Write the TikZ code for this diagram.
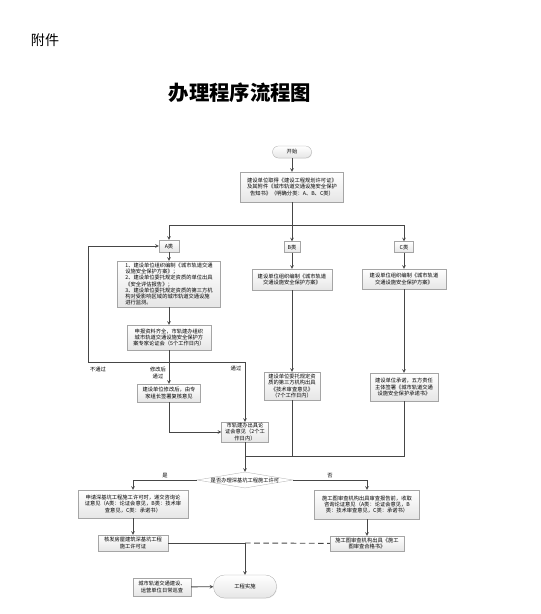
\documentclass[tikz,border=0pt]{standalone}
\usepackage{fontspec}
\setmainfont{Noto Sans CJK SC}
\usetikzlibrary{shapes.geometric, arrows.meta, positioning, calc, shadows}
\definecolor{linegray}{RGB}{70, 70, 70}
\definecolor{boxline}{RGB}{165, 165, 165}
\definecolor{boxfill}{RGB}{230, 230, 230}
\tikzset{
    box/.style = {rectangle, draw=boxline, top color=white, bottom color=boxfill, align=center, inner sep=1pt, font=\fontsize{7.5}{9}\selectfont, drop shadow={shadow xshift=0.8pt, shadow yshift=-0.8pt, fill=gray!35}},
    terminal/.style = {box, rounded corners=0.3cm},
    decision/.style = {diamond, draw=boxline, fill=white, aspect=6, inner sep=0pt, font=\fontsize{7.5}{9}\selectfont},
    arrow/.style = {draw=linegray, line width=1.3pt, ->, >=stealth},
    line/.style = {draw=linegray, line width=1.3pt, -},
    lbl/.style = {inner sep=0pt, align=center, font=\fontsize{7.5}{9}\selectfont}
}

\begin{document}
\begin{tikzpicture}[x=0.05cm, y=-0.05cm]
\useasboundingbox (0,0) rectangle (541,614);
\node (annex) [font=\fontsize{20}{20}\selectfont] at (45,40) {附件};
\node (title) [font=\bfseries\fontsize{29}{29}\selectfont] at (240,93) {办理程序流程图};

\node (start) [terminal, minimum width=1.95cm, minimum height=0.6cm] at (292,152) {开始};
\node (permit) [box, minimum width=5.15cm, minimum height=1.5cm] at (292,187) {建设单位取得《建设工程规划许可证》\\及其附件《城市轨道交通设施安全保护\\告知书》（明确分类：A、B、C类）};

\node (A) [box, minimum width=1.0cm, minimum height=0.6cm] at (169,246) {A类};
\node (B) [box, minimum width=0.8cm, minimum height=0.55cm] at (292,247) {B类};
\node (C) [box, minimum width=0.95cm, minimum height=0.55cm] at (404,247) {C类};

\node (A1) [box, align=left, minimum width=5.15cm, minimum height=2.3cm] at (169,284) {1、建设单位组织编制《城市轨道交通\\设施安全保护方案》；\\2、建设单位委托规定资质的单位出具\\《安全评估报告》；\\3、建设单位委托规定资质的第三方机\\构对受影响区域的城市轨道交通设施\\进行监测。};
\node (B1) [box, minimum width=4.0cm, minimum height=1.05cm] at (292,279.5) {建设单位组织编制《城市轨道\\交通设施安全保护方案》};
\node (C1) [box, minimum width=4.2cm, minimum height=1.0cm] at (404,279) {建设单位组织编制《城市轨道\\交通设施安全保护方案》};

\node (A2) [box, minimum width=4.2cm, minimum height=1.25cm] at (169,337.5) {申报资料齐全，市轨建办组织\\城市轨道交通设施安全保护方\\案专家论证会（5个工作日内）};
\node (B2) [box, minimum width=2.8cm, minimum height=1.4cm] at (292,386) {建设单位委托规定资\\质的第三方机构出具\\《技术审查意见》\\（7个工作日内）};
\node (C2) [box, minimum width=3.4cm, minimum height=1.4cm] at (404,387) {建设单位承诺，五方责任\\主体签署《城市轨道交通\\设施安全保护承诺书》};

\node (A3) [box, minimum width=3.15cm, minimum height=0.9cm] at (169,393) {建设单位修改后，由专\\家组长签署复核意见};
\node (A4) [box, minimum width=2.35cm, minimum height=1.0cm] at (245,432) {市轨建办出具论\\证会意见（2个工\\作日内）};

\node (check) [decision, minimum width=4.8cm, minimum height=0.8cm] at (245,480) {\makebox[0pt]{是否办理深基坑工程施工许可}};

\node (D1) [box, minimum width=5.5cm, minimum height=1.4cm] at (133,504) {申请深基坑工程施工许可时，递交咨询论\\证意见（A类：论证会意见，B类：技术审\\查意见，C类：承诺书）};
\node (E1) [box, minimum width=5.25cm, minimum height=1.45cm] at (367,504.5) {施工图审查机构出具审查报告前，收取\\咨询论证意见（A类：论证会意见，B\\类：技术审查意见，C类：承诺书）};
\node (D2) [box, minimum width=3.5cm, minimum height=0.8cm] at (133,543) {核发房屋建筑深基坑工程\\施工许可证};
\node (E2) [box, minimum width=3.7cm, minimum height=0.75cm] at (367,543.5) {施工图审查机构出具《施工\\图审查合格书》};

\node (impl) [terminal, rounded corners=0.55cm, minimum width=3.15cm, minimum height=1.15cm] at (245,586.5) {工程实施};
\node (patrol) [box, minimum width=2.9cm, minimum height=0.9cm] at (162,587) {城市轨道交通建设、\\运营单位日常巡查};

\coordinate (split) at (292,225);
\coordinate (review) at (169,362);
\coordinate (loopL) at (88,362);
\coordinate (loopR) at (245,362);
\coordinate (merge) at (245,456);
\coordinate (join) at (245,543);

\node (nopass) [lbl] at (98,369) {不通过};
\node (revised) [lbl] at (158,373) {修改后\\通过};
\node (pass) [lbl] at (236,368) {通过};

\draw [arrow] (start) -- (permit);
\draw [line] (permit) -- (split);
\draw [arrow] (split) -| (A);
\draw [arrow] (split) -- (B);
\draw [arrow] (split) -| (C);
\draw [arrow] (A) -- (A1);
\draw [arrow] (A1) -- (A2);
\draw [line] (A2) -- (review);
\draw [line] (loopL) -- (loopR);
\draw [arrow] (loopL) |- (A);
\draw [arrow] (review) -- (A3);
\draw [arrow] (loopR) -- (A4);
\draw [arrow] (A3) |- (A4);
\draw [arrow] (B) -- (B1);
\draw [arrow] (B1) -- (B2);
\draw [arrow] (C) -- (C1);
\draw [arrow] (C1) -- (C2);
\draw [line] (B2) |- (merge);
\draw [line] (C2) |- (merge);
\draw [arrow] (A4) -- (check);
\draw [arrow] (check) -| (D1) node [lbl, pos=0.25, above=3pt] {是};
\draw [arrow] (check) -| (E1) node [lbl, pos=0.25, above=3pt] {否};
\draw [arrow] (D1) -- (D2);
\draw [arrow] (E1) -- (E2);
\draw [line] (D2) -- (join);
\draw [line, dash pattern=on 8pt off 5pt] (join) -- (E2);
\draw [arrow] (join) -- (impl);
\draw [arrow] (patrol) -- (impl);
\end{tikzpicture}
\end{document}
